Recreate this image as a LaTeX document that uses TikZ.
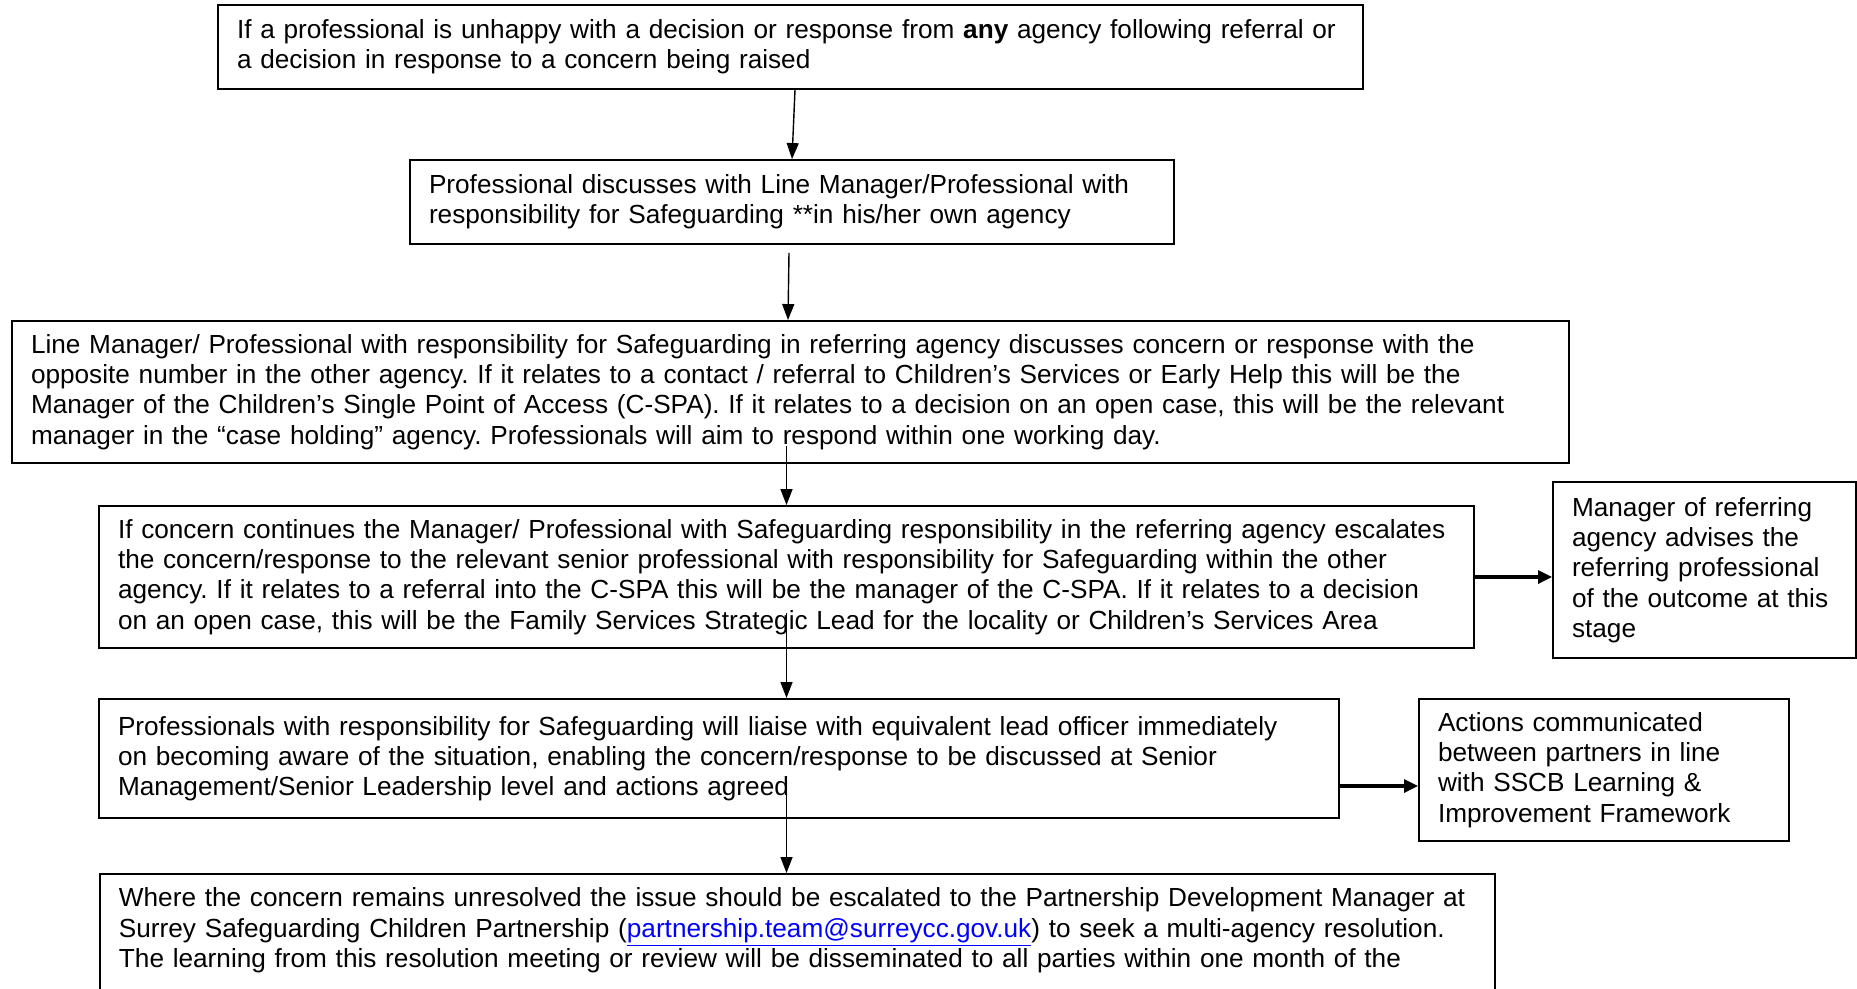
\documentclass[tikz,border=0pt]{standalone}
\usepackage{fontspec}
\setmainfont{Liberation Sans}
\usepackage{xcolor}
\usetikzlibrary{arrows.meta}
\frenchspacing

\begin{document}
\begin{tikzpicture}[
		box/.style={draw, line width=1.1pt, align=left, inner xsep=0.38cm, inner ysep=0.2cm,
			font=\fontsize{14.9}{17.2}\selectfont},
		flow/.style={line width=0.8pt, -{Triangle[length=0.32cm, width=0.24cm]}},
		side/.style={line width=1.8pt, -{Triangle[length=0.28cm, width=0.26cm]}}]
		\useasboundingbox (0,0) rectangle (37.14,-19.76);
		\node [box, minimum width=22.9cm, minimum height=1.68cm, text width=22.14cm] (b1) at (15.81,-0.94)
			{If a professional is unhappy with a decision or response from \textbf{any} agency following referral or\\
			a decision in response to a concern being raised};
		\node [box, minimum width=15.28cm, minimum height=1.68cm, text width=14.52cm] (b2) at (15.84,-4.04)
			{Professional discusses with Line Manager/Professional with\\
			responsibility for Safeguarding **in his/her own agency};
		\node [box, minimum width=31.14cm, minimum height=2.84cm, text width=30.38cm] (b3) at (15.81,-7.84)
			{Line Manager/ Professional with responsibility for Safeguarding in referring agency discusses concern or response with the\\
			opposite number in the other agency. If it relates to a contact / referral to Children’s Services or Early Help this will be the\\
			Manager of the Children’s Single Point of Access (C-SPA). If it relates to a decision on an open case, this will be the relevant\\
			manager in the “case holding” agency. Professionals will aim to respond within one working day.};
		\node [box, minimum width=27.5cm, minimum height=2.84cm, text width=26.74cm] (b4) at (15.73,-11.54)
			{If concern continues the Manager/ Professional with Safeguarding responsibility in the referring agency escalates\\
			the concern/response to the relevant senior professional with responsibility for Safeguarding within the other\\
			agency. If it relates to a referral into the C-SPA this will be the manager of the C-SPA. If it relates to a decision\\
			on an open case, this will be the Family Services Strategic Lead for the locality or Children’s Services Area};
		\node [box, minimum width=6.06cm, minimum height=3.52cm, text width=5.3cm] (r1) at (34.09,-11.40)
			{Manager of referring\\
			agency advises the\\
			referring professional\\
			of the outcome at this\\
			stage};
		\node [box, minimum width=24.8cm, minimum height=2.38cm, text width=24.04cm] (b5) at (14.38,-15.17)
			{Professionals with responsibility for Safeguarding will liaise with equivalent lead officer immediately\\
			on becoming aware of the situation, enabling the concern/response to be discussed at Senior\\
			Management/Senior Leadership level and actions agreed};
		\node [box, minimum width=7.4cm, minimum height=2.84cm, text width=6.64cm] (r2) at (32.08,-15.40)
			{Actions communicated\\
			between partners in line\\
			with SSCB Learning \&\\
			Improvement Framework};
		\node [box, anchor=north west, inner ysep=0.28cm, minimum width=27.9cm, text width=27.14cm, text depth=1.6cm] (b6) at (1.98,-17.46)
			{Where the concern remains unresolved the issue should be escalated to the Partnership Development Manager at\\
			Surrey Safeguarding Children Partnership (\textcolor{blue}{\underline{partnership.team@surreycc.gov.uk}}) to seek a multi-agency resolution.\\
			The learning from this resolution meeting or review will be disseminated to all parties within one month of the};
		\draw [flow] ([xshift=0.09cm]b1.south) -- (b2.north);
		\draw [flow] ([xshift=-0.06cm, yshift=-0.16cm]b2.south) -- ([xshift=-0.05cm]b3.north);
		\draw [flow] ([yshift=0.36cm]b3.south -| b4.north) -- (b4.north);
		\draw [flow] ([yshift=0.72cm]b4.south) -- (b4.north |- b5.north);
		\draw [flow] ([yshift=0.68cm]b5.south -| b4.north) -- (b4.north |- b6.north);
		\draw [side] (b4.east) -- (b4.east -| r1.west);
		\draw [side] ([yshift=-0.55cm]b5.east) -- ([yshift=-0.55cm]b5.east -| r2.west);
\end{tikzpicture}
\end{document}
